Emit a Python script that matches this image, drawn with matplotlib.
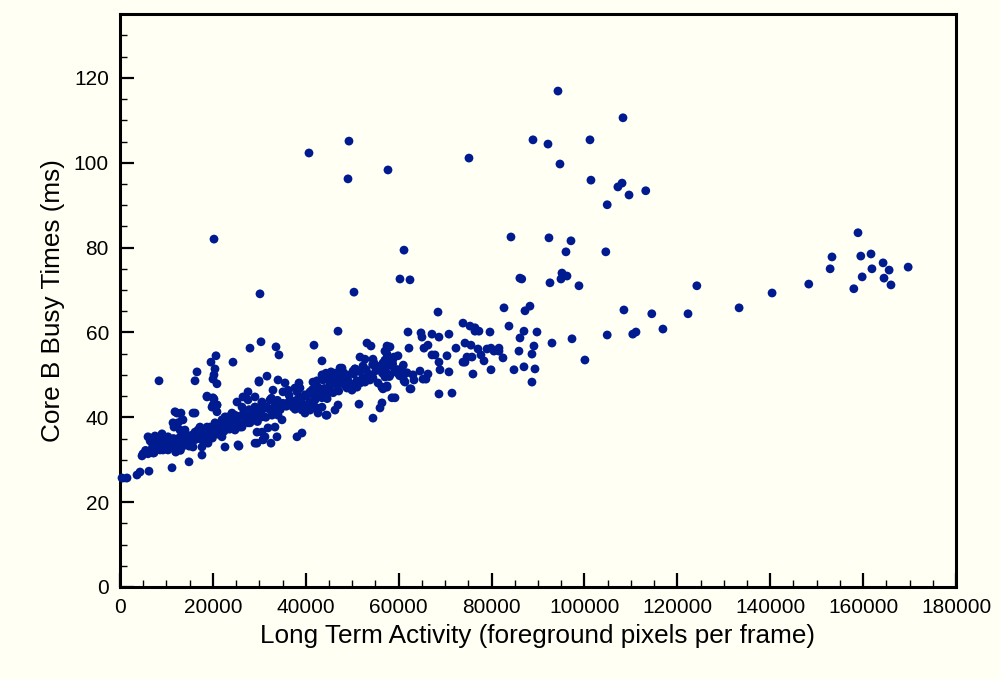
import matplotlib
matplotlib.use("Agg")
import matplotlib.pyplot as plt
from matplotlib.ticker import MultipleLocator
import numpy as np

# ---- data ----
# high outliers
high_x = [20240, 40690, 49300, 49090, 57700, 75140, 94300, 108300, 88920, 92150,
          101190, 94730, 101400, 107200, 108100, 109600, 113200, 104900]
high_y = [82.0, 102.3, 105.1, 96.2, 98.3, 101.1, 116.9, 110.6, 105.4, 104.4,
          105.4, 99.7, 95.9, 94.3, 95.2, 92.4, 93.4, 90.1]

# mid-level scattered points
mid_x = [30140, 50380, 61150, 60280, 62440, 92360, 97100, 96020, 104600, 84180,
         95160, 96240, 94950, 92580, 98820, 86100, 86500, 124200, 88270, 108500,
         114500, 122300, 116900, 89780, 104900, 110400, 111100, 89130, 93010, 97320,
         88700, 100100, 89350, 88700, 87200, 82680, 68470]
mid_y = [69.1, 69.5, 79.4, 72.6, 72.4, 82.3, 81.6, 79.0, 79.0, 82.5,
         74.0, 73.3, 72.6, 71.7, 71.0, 72.8, 72.6, 71.0, 66.2, 65.3,
         64.4, 64.4, 60.8, 60.1, 59.4, 59.6, 60.1, 56.8, 57.5, 58.5,
         54.9, 53.5, 51.4, 48.3, 65.1, 65.8, 64.8]

# right-hand cluster
right_x = [158900, 153300, 152900, 159500, 161700, 164300, 165600, 161900, 159800,
           164500, 166000, 158000, 169700, 148300, 140400, 133300]
right_y = [83.5, 77.8, 75.0, 78.0, 78.5, 76.4, 74.7, 75.0, 73.1,
           72.8, 71.2, 70.3, 75.4, 71.4, 69.3, 65.8]

# band 55k-90k
band_x = [85900, 86120, 86980, 83750, 73850, 75360, 76430, 77290, 76430, 79660,
          70830, 68680, 67170, 64810, 65020, 62010, 62220, 65450, 66310, 67170,
          67820, 68680, 70400, 72340, 74280, 75570, 77080, 77720, 75790, 74710,
          74280, 73850, 78370, 79020, 79880, 80520, 81600, 81600, 82460, 79880,
          76000, 70830, 68900, 66310, 65880, 65240, 64590, 63080, 63300, 61150,
          60930, 59850, 62650, 62440, 68680, 71480, 84830, 86980,
          57490, 58130, 57050, 57490, 57050, 57490, 56620, 58780, 59850, 58560,
          57490, 58130, 60280, 59640, 57050, 56410, 57490, 56620, 58560, 59210,
          56410, 55980, 58990, 60930, 61360]
band_y = [55.6, 58.7, 60.3, 61.5, 62.2, 61.5, 61.1, 60.3, 60.3, 60.1,
          59.6, 58.9, 59.6, 59.9, 58.9, 60.1, 56.3, 56.3, 57.0, 54.7,
          54.7, 53.0, 54.5, 56.3, 57.5, 57.0, 56.1, 54.7, 54.2, 54.2,
          53.0, 53.0, 53.3, 56.1, 56.3, 55.6, 55.6, 56.3, 54.0, 51.2,
          50.2, 50.7, 51.2, 50.2, 49.0, 49.0, 50.9, 50.0, 48.8, 48.6,
          50.0, 51.2, 46.7, 46.7, 45.5, 45.7, 51.2, 51.9,
          56.8, 56.6, 55.6, 54.9, 53.5, 52.8, 52.8, 53.7, 54.5, 52.1,
          50.4, 50.0, 50.4, 51.2, 49.5, 47.1, 47.4, 46.7, 44.6, 44.6,
          43.4, 42.2, 54.2, 49.5, 48.3]

# band 28k-57k
core2_x = [46940, 30360, 33590, 34230, 41770, 43490, 53180, 54040, 51670, 52750,
           52320, 54470, 54690, 50600, 50170, 47800, 47370, 46290, 45430, 44350,
           43490, 45640, 46940, 48010, 46720, 45210, 44570, 48870, 49950, 51030,
           51670, 52100, 52750, 53830, 54470, 55550, 56410, 57490, 59850, 60710,
           59210, 57700, 54470, 51460, 46290, 44570, 42410, 42630, 43490, 41550,
           40910, 41980, 43490, 44570, 45640, 43490, 41980, 40910, 39830, 38750,
           38110, 36600, 36170, 37250, 38320, 39180, 39830, 38110, 38750, 38540,
           37680, 36170, 35090, 35530, 34020, 32940, 31650, 29930, 32300, 33370,
           34020, 33800, 32730, 31650, 30570, 29710, 29070, 32730, 34020, 34880,
           33370, 31860, 30570, 29500, 31220, 33800, 30790, 32510, 29500, 38110,
           39180, 52320, 48010, 48870, 50600, 41550, 42410, 43710, 46940, 44350,
           47370]
core2_y = [60.3, 57.8, 56.6, 54.7, 57.0, 53.3, 57.5, 56.8, 54.2, 53.7,
           51.9, 53.7, 52.8, 51.4, 50.9, 51.6, 50.7, 50.4, 50.7, 50.4,
           50.0, 49.0, 48.8, 48.3, 47.6, 48.1, 49.3, 46.9, 46.4, 47.1,
           48.1, 48.3, 48.3, 48.8, 49.3, 48.1, 47.1, 47.1, 50.4, 51.2,
           50.7, 50.0, 39.8, 43.1, 41.7, 40.5, 42.2, 41.0, 42.4, 43.4,
           41.7, 44.8, 44.6, 45.7, 46.0, 46.4, 46.4, 46.0, 45.3, 44.8,
           44.1, 44.1, 43.4, 42.4, 42.4, 41.7, 41.0, 46.0, 46.9, 48.1,
           46.9, 46.4, 46.0, 48.1, 48.8, 46.4, 49.7, 48.6, 44.1, 43.4,
           42.4, 41.0, 41.7, 42.4, 41.7, 41.0, 42.4, 40.5, 40.5, 39.4,
           37.7, 37.5, 36.5, 36.5, 35.4, 35.4, 34.7, 33.9, 33.9, 35.4,
           36.3, 52.1, 50.7, 50.0, 51.4, 48.3, 48.6, 48.8, 42.9, 40.5,
           51.6]

# low cluster 0-30k
low_x = [27990, 20670, 19590, 24330, 16580, 16150, 8400, 20450, 20240, 20020,
         20880, 29930, 18730, 20240, 20020, 20880, 11840, 13130, 16150, 13560,
         12490, 11630, 12920, 13990, 6030, 7540, 8610, 10330, 9690, 7970,
         6890, 5380, 4740, 4950, 6030, 7320, 8610, 10330, 11840, 13350,
         14640, 16150, 14430, 15500, 17650, 18300, 19810, 21100, 22610, 24110,
         25190, 26270, 27340, 28420, 29070, 30570, 16790, 18730, 20450, 21960,
         23250, 20450, 21960, 18950, 17650, 15720, 17650, 14860, 11200, 6240,
         4310, 3660, 430, 1510, 25410, 29070, 30790, 22610, 24760, 26270,
         27560, 29070, 30570, 24110, 26270, 27560, 29070, 30570, 27560, 26480,
         25190, 26910, 25620, 9040, 8400, 7100, 9260, 10330, 12270, 13350,
         11410, 12270, 13350, 15720, 16150, 16790, 18730, 20020, 19810, 20880,
         20880, 22610, 24760, 26480, 27990, 25840, 23040, 19380, 17220, 15720,
         14430, 12920, 11410, 21530]
low_y = [56.3, 54.5, 53.0, 53.0, 50.7, 48.6, 48.6, 51.4, 50.0, 49.0,
         47.9, 48.3, 45.0, 44.3, 42.9, 42.9, 41.3, 41.0, 41.0, 39.4,
         38.7, 37.7, 37.0, 37.0, 35.4, 35.6, 35.1, 35.4, 33.5, 33.9,
         32.3, 31.6, 30.9, 31.4, 31.4, 31.6, 32.3, 32.3, 32.8, 33.0,
         33.9, 34.7, 35.4, 35.8, 34.7, 35.4, 36.3, 37.0, 37.7, 38.7,
         39.4, 40.1, 41.0, 41.7, 42.4, 43.4, 37.0, 37.7, 38.7, 39.4,
         40.1, 36.3, 35.4, 33.9, 33.0, 33.0, 31.1, 29.5, 28.1, 27.3,
         27.1, 26.4, 25.7, 25.7, 33.5, 33.9, 34.7, 33.0, 37.0, 37.7,
         38.7, 39.4, 40.1, 41.0, 42.4, 44.1, 44.8, 43.6, 46.0, 44.8,
         43.6, 39.4, 33.2, 36.1, 34.2, 31.6, 32.3, 33.0, 34.7, 36.3,
         38.7, 41.0, 39.4, 41.0, 36.5, 35.4, 44.8, 44.6, 42.4, 42.9,
         41.3, 40.1, 40.5, 40.5, 38.7, 37.7, 37.7, 37.7, 37.7, 35.4,
         34.7, 33.9, 33.0, 36.3]

# extra points filling the dense main band
dense_x = [10800, 11500, 12200, 12800, 13600, 14200, 14900, 15600, 16300, 17000,
           17600, 18200, 18800, 19300, 19900, 20500, 21200, 21800, 22400, 23000,
           23600, 24200, 24800, 25400, 26000, 26600, 27200, 27800, 28400, 29000,
           29600, 30200, 30800, 31400, 32000, 32600, 33200, 33900, 34500, 35100,
           35800, 36400, 37000, 37700, 38300, 39000, 39600, 40200, 40800, 41400,
           42000, 42700, 43300, 44000, 44600, 45200, 45900, 46500, 47100, 47800,
           48400, 49000, 49700, 50300, 51000, 51600, 52300, 53000, 53700, 54400,
           55100, 55800, 56500, 57200, 58000, 58700, 59400, 60200, 61000, 61800,
           7000, 8000, 9000, 9500, 10000, 5500, 6500, 12000, 13000, 14000]
dense_y = [34.0, 35.0, 33.6, 35.2, 34.3, 36.0, 33.2, 34.6, 36.4, 35.0,
           36.8, 34.2, 36.0, 37.4, 35.1, 37.9, 36.0, 38.1, 36.7, 38.8,
           37.2, 39.5, 38.3, 40.2, 38.9, 41.0, 39.7, 41.8, 40.3, 41.1,
           39.0, 40.6, 42.8, 40.0, 42.0, 44.5, 42.3, 44.0, 41.8, 43.3,
           42.6, 45.2, 43.8, 41.9, 43.2, 44.4, 42.9, 44.9, 43.5, 46.5,
           44.1, 47.0, 45.1, 46.8, 44.4, 47.5, 45.8, 48.6, 46.2, 49.5,
           47.6, 49.0, 47.9, 50.2, 48.6, 50.8, 49.4, 51.2, 50.1, 52.4,
           51.0, 52.0, 50.4, 51.8, 49.6, 52.6, 50.9, 49.8, 52.3, 50.5,
           33.0, 32.6, 33.2, 34.8, 32.9, 32.2, 34.4, 31.8, 32.2, 33.8]

x_label = "Long Term Activity (foreground pixels per frame)"
y_label = "Core B Busy Times (ms)"

# ---- plot ----
bg = "#fffff4"
dot = "#001a8f"
plt.rcParams['font.family'] = ['Liberation Sans', 'DejaVu Sans']

fig = plt.figure(figsize=(10, 6.79), dpi=100, facecolor=bg)
ax = fig.add_axes([0.12, 0.1355, 0.836, 0.8435])
ax.set_facecolor(bg)

xs = np.concatenate([high_x, mid_x, right_x, band_x, core2_x, low_x, dense_x])
ys = np.concatenate([high_y, mid_y, right_y, band_y, core2_y, low_y, dense_y])
ax.scatter(xs, ys, s=40, color=dot, edgecolors='none', zorder=3, clip_on=False)

ax.set_xlim(0, 180000)
ax.set_ylim(0, 135)
ax.xaxis.set_major_locator(MultipleLocator(20000))
ax.xaxis.set_minor_locator(MultipleLocator(5000))
ax.set_yticks(np.arange(0, 121, 20))
ax.set_yticks(np.arange(5, 131, 5), minor=True)

for s in ax.spines.values():
    s.set_linewidth(2.2)
ax.tick_params(which='major', direction='in', length=10, width=1.6,
               labelsize=15, pad=8, top=False, right=False)
ax.tick_params(which='minor', direction='in', length=5, width=1.0,
               top=False, right=False)

ax.set_xlabel(x_label, fontsize=18.8, labelpad=5)
ax.set_ylabel(y_label, fontsize=18.8, labelpad=6)

fig.savefig("out.png", dpi=100, facecolor=bg)
